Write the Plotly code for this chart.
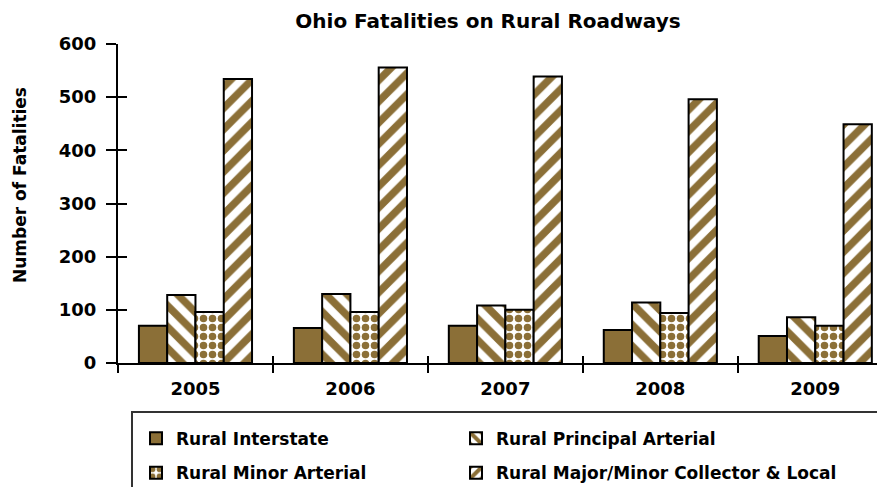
import plotly.graph_objects as go

years = ["2005", "2006", "2007", "2008", "2009"]
interstate = [70, 66, 70, 62, 51]
principal = [128, 130, 108, 114, 86]
minor = [96, 96, 100, 94, 70]
collector = [534, 556, 539, 496, 449]
y_title = "Number of Fatalities"

BROWN = "#8B6F37"
FONT = "DejaVu Sans"
H = 479

fig = go.Figure()

def add(name, vals, shape, size, solidity, legend):
    if shape is None:
        marker = dict(color=BROWN, line=dict(color="black", width=2))
    else:
        marker = dict(color="white", line=dict(color="black", width=2),
                      pattern=dict(shape=shape, fgcolor=BROWN, bgcolor="white",
                                   fgopacity=1, size=size, solidity=solidity,
                                   fillmode="overlay"))
    fig.add_trace(go.Bar(name=name, x=years, y=vals, marker=marker, legend=legend,
                         showlegend=True))

add("Rural Interstate", interstate, None, 0, 0, "legend")
add("Rural Principal Arterial", principal, "\\", 15, 0.5, "legend2")
add("Rural Minor Arterial", minor, ".", 9, 0.55, "legend3")
add("Rural Major/Minor Collector & Local", collector, "/", 15, 0.5, "legend4")

# overlay axes for inward tick halves
fig.add_trace(go.Scatter(x=[], y=[], xaxis="x2", yaxis="y2", showlegend=False, hoverinfo="skip"))

tickfont = dict(family=FONT, size=18, color="black", weight="bold")
legfont = dict(family=FONT, size=17, color="black", weight="bold")

def leg(x, y):
    return dict(orientation="h", x=x, xanchor="left", y=y, yanchor="top",
                font=legfont, bgcolor="rgba(0,0,0,0)")

fig.update_layout(
    width=877, height=H, showlegend=True,
    margin=dict(l=110, r=0, t=36, b=H - 355, autoexpand=False),
    paper_bgcolor="white", plot_bgcolor="white",
    barmode="group", bargap=0.27, bargroupgap=0,
    title=dict(text="Ohio Fatalities on Rural Roadways", x=480 / 877, xanchor="center",
               y=1 - 13 / H, yanchor="middle",
               font=dict(family=FONT, size=20, color="black", weight="bold")),
    xaxis=dict(type="category", range=[-0.5, 4.45], showline=True, linecolor="black", linewidth=2,
               ticks="outside", ticklen=8, tickwidth=2, tickcolor="black", tickson="boundaries",
               tickfont=tickfont, showgrid=False, zeroline=False, ticklabelstandoff=8,
               automargin=False),
    yaxis=dict(range=[0, 600], dtick=100, showline=True, linecolor="black", linewidth=2,
               ticks="outside", ticklen=10, tickwidth=2, tickcolor="black",
               tickfont=tickfont, showgrid=False, zeroline=False, ticklabelstandoff=6,
               automargin=False),
    xaxis2=dict(overlaying="x", range=[-0.5, 4.45], tickvals=[0.5, 1.5, 2.5, 3.5],
                ticks="inside", ticklen=7, tickwidth=2, tickcolor="black", automargin=False,
                showticklabels=False, showline=False, showgrid=False, zeroline=False, anchor="y2"),
    yaxis2=dict(overlaying="y", range=[0, 600], tickvals=[100, 200, 300, 400, 500, 600],
                ticks="inside", ticklen=9, tickwidth=2, tickcolor="black", automargin=False,
                showticklabels=False, showline=False, showgrid=False, zeroline=False, anchor="x2"),
    legend=leg(0.0235, -0.181),
    legend2=leg(0.4407, -0.181),
    legend3=leg(0.0235, -0.289),
    legend4=leg(0.4407, -0.289),
    annotations=[dict(text=y_title, xref="paper", yref="paper", x=(12 - 110) / 767,
                      y=(355 - 177) / 319, xanchor="center", yanchor="middle", textangle=-90,
                      showarrow=False,
                      font=dict(family=FONT, size=17, color="black", weight="bold"))],
    shapes=[dict(type="rect", xref="paper", yref="paper", x0=0.01825, x1=1.05, y0=-0.1536, y1=-0.5,
                 line=dict(color="#333333", width=2), fillcolor="rgba(0,0,0,0)", layer="below")],
)

fig.write_html("out.html")
